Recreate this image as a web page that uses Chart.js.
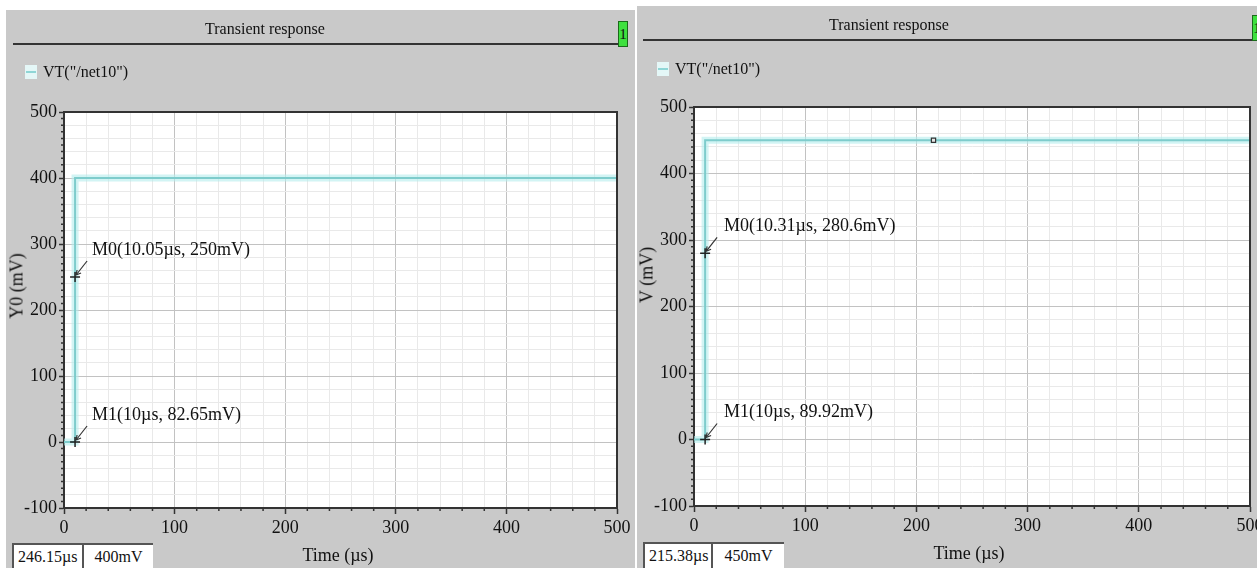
<!DOCTYPE html>
<html>
<head>
<meta charset="utf-8">
<script src="https://cdn.jsdelivr.net/npm/chart.js@4.4.1/dist/chart.umd.min.js"></script>
<style>
  body { margin: 0; width: 1257px; height: 568px; overflow: hidden; background: #fff;
         font-family: "Liberation Serif", "Times New Roman", serif; color: #111; }
  .panel { position: absolute; background: #c9c9c9; overflow: hidden; }
  .panel canvas { position: absolute; left: 0; top: 0; }
  .title { position: absolute; top: 10px; font-size: 16px; transform: translateX(-50%); white-space: nowrap; }
  .rule { position: absolute; top: 33px; height: 2px; background: #333; }
  .badge { position: absolute; width: 8px; height: 24px; background: #3ee03e; border: 1px solid #1a6a1a;
           font-size: 15px; line-height: 24px; text-align: center; }
  .legend { position: absolute; font-size: 16px; white-space: nowrap; }
  .legend i { position: absolute; left: -18px; top: 2px; width: 12px; height: 14px; background: #e4f7f7; }
  .legend i:after { content: ""; position: absolute; left: 1px; right: 1px; top: 6px; height: 2px; background: #8fd6d6; }
  .ytitle { position: absolute; font-size: 18px; white-space: nowrap; transform: translate(-50%, -50%) rotate(-90deg); }
  .xtitle { position: absolute; font-size: 18px; white-space: nowrap; transform: translate(-50%, -50%); }
  .box { position: absolute; bottom: 0; background: #fff; border-top: 2px solid #555; border-left: 2px solid #555;
         font-size: 16px; line-height: 24px; white-space: nowrap; box-sizing: border-box; }
</style>
</head>
<body>

<div class="panel" id="p1" style="left:6px; top:10px; width:629px; height:558px;">
  <canvas id="c1" width="629" height="558"></canvas>
  <div class="title" style="left:259px;">Transient response</div>
  <div class="rule" style="left:7px; width:606px;"></div>
  <div class="badge" style="left:612px; top:11px;">1</div>
  <div class="legend" style="left:37px; top:53px;"><i></i>VT("/net10")</div>
  <div class="ytitle" style="left:11px; top:276px;">Y0 (mV)</div>
  <div class="xtitle" style="left:332px; top:545px;">Time (µs)</div>
  <div class="box" style="left:6px; width:71px; height:25px; padding-left:4px;">246.15µs</div>
  <div class="box" style="left:76px; width:71px; height:25px; text-align:center;">400mV</div>
</div>

<div class="panel" id="p2" style="left:637px; top:6px; width:620px; height:562px;">
  <canvas id="c2" width="640" height="562"></canvas>
  <div class="title" style="left:252px;">Transient response</div>
  <div class="rule" style="left:6px; width:610px;"></div>
  <div class="badge" style="left:615px; top:9px;">1</div>
  <div class="legend" style="left:38px; top:54px;"><i></i>VT("/net10")</div>
  <div class="ytitle" style="left:10px; top:269px;">V (mV)</div>
  <div class="xtitle" style="left:332px; top:547px;">Time (µs)</div>
  <div class="box" style="left:6px; width:69px; height:26px; padding-left:4px;">215.38µs</div>
  <div class="box" style="left:74px; width:73px; height:26px; text-align:center;">450mV</div>
</div>

<script>
// waveform samples (time in us, voltage in mV)
const timeUs = [0, 10, 10, 500];
const leftMv = [0, 0, 400, 400];
const rightMv = [0, 0, 450, 450];

// markers
const leftMarkX = [10, 10];
const leftMarkY = [250, 0];
const leftMarkText = ['M0(10.05µs, 250mV)', 'M1(10µs, 82.65mV)'];
const rightMarkX = [10, 10];
const rightMarkY = [280, 0];
const rightMarkText = ['M0(10.31µs, 280.6mV)', 'M1(10µs, 89.92mV)'];

// cursor point on right plot
const cursorX = [215.38];
const cursorY = [450];

const xRange = [0, 500];
const yRange = [-100, 500];

const FONT = '"Liberation Serif", "Times New Roman", serif';
const MAJOR = '#c2c2c2';
const MINOR = '#e9e9e9';
const AXIS = '#333';

function pts(xs, ys) {
    return xs.map((x, i) => ({ x: x, y: ys[i] }));
}

// white plot area, frame and minor tick marks
const plotFrame = {
    id: 'plotFrame',
    beforeDraw(chart) {
        const a = chart.chartArea, ctx = chart.ctx;
        ctx.save();
        ctx.fillStyle = '#fff';
        ctx.fillRect(a.left, a.top, a.right - a.left, a.bottom - a.top);
        ctx.restore();
    },
    afterDraw(chart) {
        const a = chart.chartArea, ctx = chart.ctx;
        ctx.save();
        ctx.strokeStyle = AXIS;
        ctx.lineWidth = 2;
        ctx.beginPath();
        ctx.moveTo(a.left, a.top);
        ctx.lineTo(a.right, a.top);
        ctx.lineTo(a.right, a.bottom);
        ctx.stroke();
        // minor ticks
        ctx.lineWidth = 1.5;
        ctx.beginPath();
        chart.scales.x.ticks.forEach(t => {
            if (t.value % 100 !== 0) {
                const px = chart.scales.x.getPixelForValue(t.value);
                ctx.moveTo(px, a.bottom);
                ctx.lineTo(px, a.bottom + 3);
            }
        });
        chart.scales.y.ticks.forEach(t => {
            if (t.value % 100 !== 0) {
                const py = chart.scales.y.getPixelForValue(t.value);
                ctx.moveTo(a.left, py);
                ctx.lineTo(a.left - 3, py);
            }
        });
        ctx.stroke();
        ctx.restore();
    }
};

// marker labels with small arrows
function markerLabels(xs, ys, texts, dx) {
    return {
        id: 'markerLabels',
        afterDatasetsDraw(chart) {
            const ctx = chart.ctx;
            ctx.save();
            ctx.font = '18px ' + FONT;
            ctx.fillStyle = '#111';
            ctx.strokeStyle = '#333';
            ctx.lineWidth = 1.2;
            ctx.textBaseline = 'middle';
            xs.forEach((v, i) => {
                const px = chart.scales.x.getPixelForValue(v);
                const py = chart.scales.y.getPixelForValue(ys[i]);
                ctx.beginPath();
                ctx.moveTo(px + 12, py - 16);
                ctx.lineTo(px + 1, py - 2);
                ctx.stroke();
                ctx.beginPath();
                ctx.moveTo(px + 1, py - 2);
                ctx.lineTo(px + 2, py - 7);
                ctx.moveTo(px + 1, py - 2);
                ctx.lineTo(px + 6, py - 4);
                ctx.stroke();
                ctx.fillText(texts[i], px + dx, py - 27);
            });
            ctx.restore();
        }
    };
}

function makeChart(id, volts, mx, my, mt, dx, yWidth, pad, extra) {
    const datasets = [
        { data: pts(timeUs, volts), borderColor: '#7ecccc', borderWidth: 2, pointRadius: 0, tension: 0, order: 2 },
        { data: pts(timeUs, volts), borderColor: 'rgba(180,236,236,0.6)', borderWidth: 7, pointRadius: 0, tension: 0, order: 3 },
        { data: pts(mx, my), showLine: false, pointStyle: 'cross', pointRadius: 5,
          borderColor: '#222', borderWidth: 1.5, order: 1 }
    ].concat(extra);

    return new Chart(document.getElementById(id), {
        type: 'line',
        data: { datasets: datasets },
        options: {
            responsive: false,
            animation: false,
            devicePixelRatio: 1,
            layout: { padding: pad },
            plugins: { legend: { display: false }, tooltip: { enabled: false } },
            scales: {
                x: {
                    type: 'linear',
                    min: xRange[0], max: xRange[1],
                    afterFit: s => { s.height = 30; },
                    border: { color: AXIS, width: 2 },
                    grid: {
                        color: c => c.tick.value % 100 === 0 ? MAJOR : MINOR,
                        tickColor: c => c.tick.value % 100 === 0 ? AXIS : 'rgba(0,0,0,0)',
                        tickLength: 6, tickWidth: 1.5
                    },
                    ticks: {
                        stepSize: 20, autoSkip: false, maxTicksLimit: 1000, maxRotation: 0, padding: 3,
                        color: '#111', font: { family: FONT, size: 18 },
                        callback: v => v % 100 === 0 ? String(v) : ''
                    }
                },
                y: {
                    min: yRange[0], max: yRange[1],
                    afterFit: s => { s.width = yWidth; },
                    border: { color: AXIS, width: 2 },
                    grid: {
                        color: c => c.tick.value % 100 === 0 ? MAJOR : (c.tick.value % 20 === 0 ? MINOR : 'rgba(0,0,0,0)'),
                        tickColor: c => c.tick.value % 100 === 0 ? AXIS : 'rgba(0,0,0,0)',
                        tickLength: 5, tickWidth: 1.5
                    },
                    ticks: {
                        stepSize: 10, autoSkip: false, maxTicksLimit: 1000, padding: 2,
                        color: '#111', font: { family: FONT, size: 18 },
                        callback: v => v % 100 === 0 ? String(v) : ''
                    }
                }
            }
        },
        plugins: [plotFrame, markerLabels(mx, my, mt, dx)]
    });
}

makeChart('c1', leftMv, leftMarkX, leftMarkY, leftMarkText, 17, 58,
    { left: 0, top: 102, right: 18, bottom: 30 }, []);

makeChart('c2', rightMv, rightMarkX, rightMarkY, rightMarkText, 19, 57,
    { left: 0, top: 101, right: 27, bottom: 32 },
    [{ data: pts(cursorX, cursorY), showLine: false, pointStyle: 'rect', pointRadius: 3,
       backgroundColor: '#e6e6e6', borderColor: '#333', borderWidth: 1.2, order: 0 }]);
</script>
</body>
</html>
